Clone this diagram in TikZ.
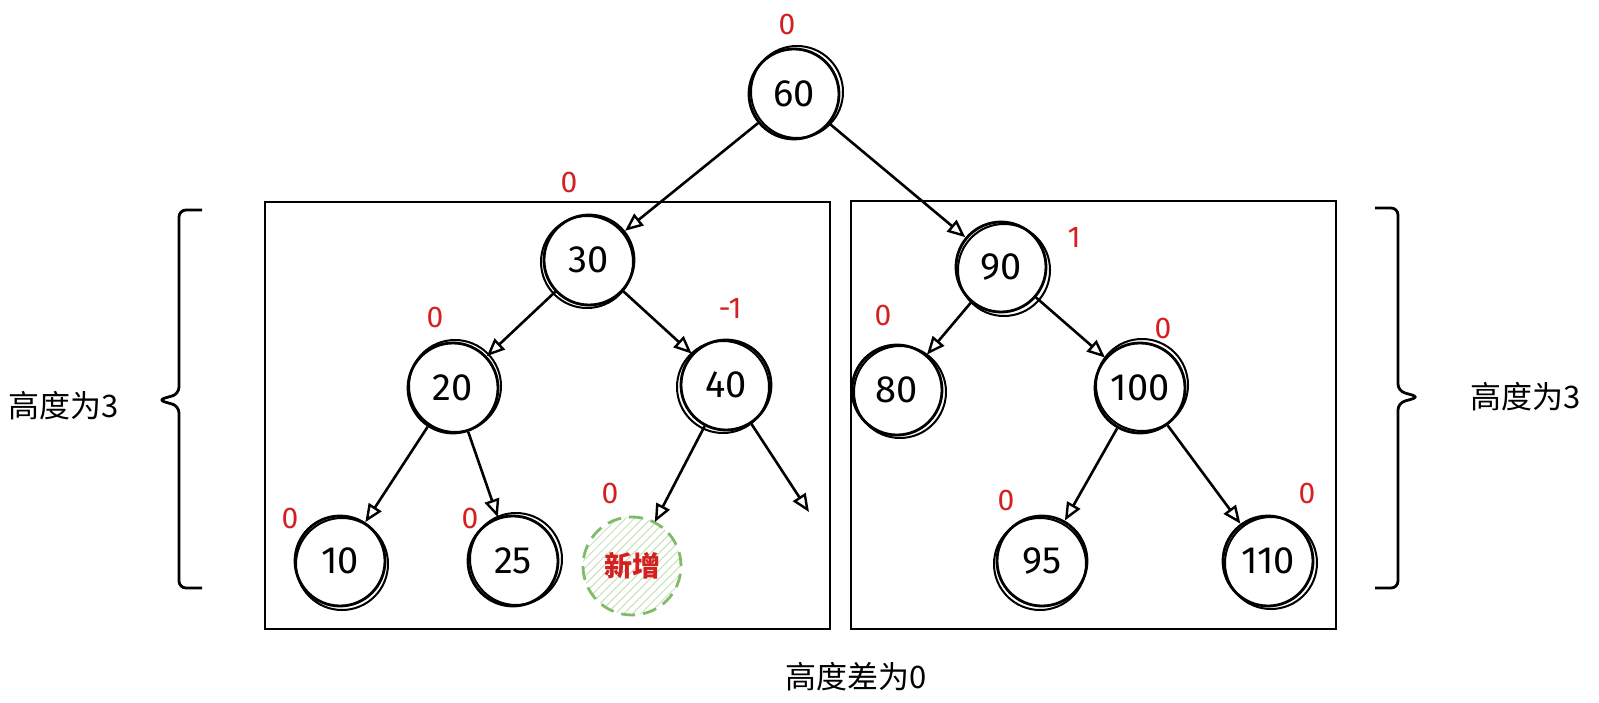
\documentclass[tikz,border=0pt]{standalone}
\usepackage{fontspec}
\setmainfont{Fira Sans}
\newfontfamily\cjk{Noto Sans CJK SC}
\usetikzlibrary{arrows.meta,patterns.meta}
\definecolor{bred}{HTML}{D42020}
\definecolor{bgreen}{HTML}{80BC68}
\begin{document}
\begin{tikzpicture}[x=1pt,y=-1pt,
  nd/.style={circle, draw, line width=2.8pt, minimum size=90pt, inner sep=0pt, font=\fontsize{38}{38}\selectfont},
  bf/.style={text=bred, font=\fontsize{30}{30}\selectfont},
  edge/.style={line width=2.6pt, -{Triangle[open,length=18pt,width=15pt,line width=2.4pt]}},
  lab/.style={font=\cjk\fontsize{31}{31}\selectfont},
  frame/.style={line width=2.6pt},
  brc/.style={line width=2.8pt, rounded corners=7pt}
]
\useasboundingbox (0,0) rectangle (1599,703);
% nodes
\node[nd] (n60) at (794,94) {60};
\node[nd] (n30) at (589,260) {30};
\node[nd] (n90) at (1001,267) {90};
\node[nd] (n20) at (453,388) {20};
\node[nd] (n40) at (726,385) {40};
\node[nd] (n80) at (897,390) {80};
\node[nd] (n100) at (1140,388) {100};
\node[nd] (n10) at (340,561) {10};
\node[nd] (n25) at (513,561) {25};
\node[nd] (n95) at (1042,561) {95};
\node[nd] (n110) at (1268,561) {110};
\node[circle, draw=bgreen, line width=2.8pt, dash pattern=on 14pt off 8pt, minimum size=98pt, inner sep=0pt,
  pattern={Lines[angle=45,distance=6pt,line width=1pt]}, pattern color=bgreen!45,
  text=bred, font=\cjk\bfseries\fontsize{28}{28}\selectfont] (nnew) at (632,566) {新增};
% sketchy second strokes
\foreach \n/\dx/\dy in {n60/3/-2,n30/-2/2,n90/3/3,n20/2/-2,n40/-3/2,n80/3/2,n100/2/-3,n10/2/3,n25/3/-2,n95/-2/3,n110/3/2}
  \draw[line width=2pt] ([shift={(\dx,\dy)}]\n.center) circle (46pt);
\coordinate (null) at (809,512);
% edges
\draw[edge] (n60) -- (n30);
\draw[edge] (n60) -- (n90);
\draw[edge] (n30) -- (n20);
\draw[edge] (n30) -- (n40);
\draw[edge] (n90) -- (n80);
\draw[edge] (n90) -- (n100);
\draw[edge] (n20) -- (n10);
\draw[edge] (n20) -- (n25);
\draw[edge] (n40) -- (nnew);
\draw[edge] (n40) -- (null);
\draw[edge] (n100) -- (n95);
\draw[edge] (n100) -- (n110);
% frames
\draw[frame] (265,202) rectangle (830,629);
\draw[frame] (851,201) rectangle (1336,629);
% balance factors
\node[bf] (b60) at (787,24) {0};
\node[bf] (b30) at (569,182) {0};
\node[bf] (b90) at (1074,237) {1};
\node[bf] (b20) at (435,317) {0};
\node[bf] (b40) at (730,308) {-1};
\node[bf] (b80) at (883,315) {0};
\node[bf] (b100) at (1163,328) {0};
\node[bf] (b10) at (290,518) {0};
\node[bf] (b25) at (470,518) {0};
\node[bf] (bnew) at (610,493) {0};
\node[bf] (b95) at (1006,500) {0};
\node[bf] (b110) at (1307,493) {0};
% braces
\draw[brc] (202,210) -- (179,210) -- (179,394) -- (158,400) -- (179,406) -- (179,588) -- (202,588);
\draw[brc] (1375,208) -- (1398,208) -- (1398,391) -- (1419,397) -- (1398,403) -- (1398,588) -- (1375,588);
% labels
\node[lab] (ll) at (64,406) {高度为3};
\node[lab] (rl) at (1526,397) {高度为3};
\node[lab] (bl) at (856,677) {高度差为0};
\end{tikzpicture}
\end{document}
